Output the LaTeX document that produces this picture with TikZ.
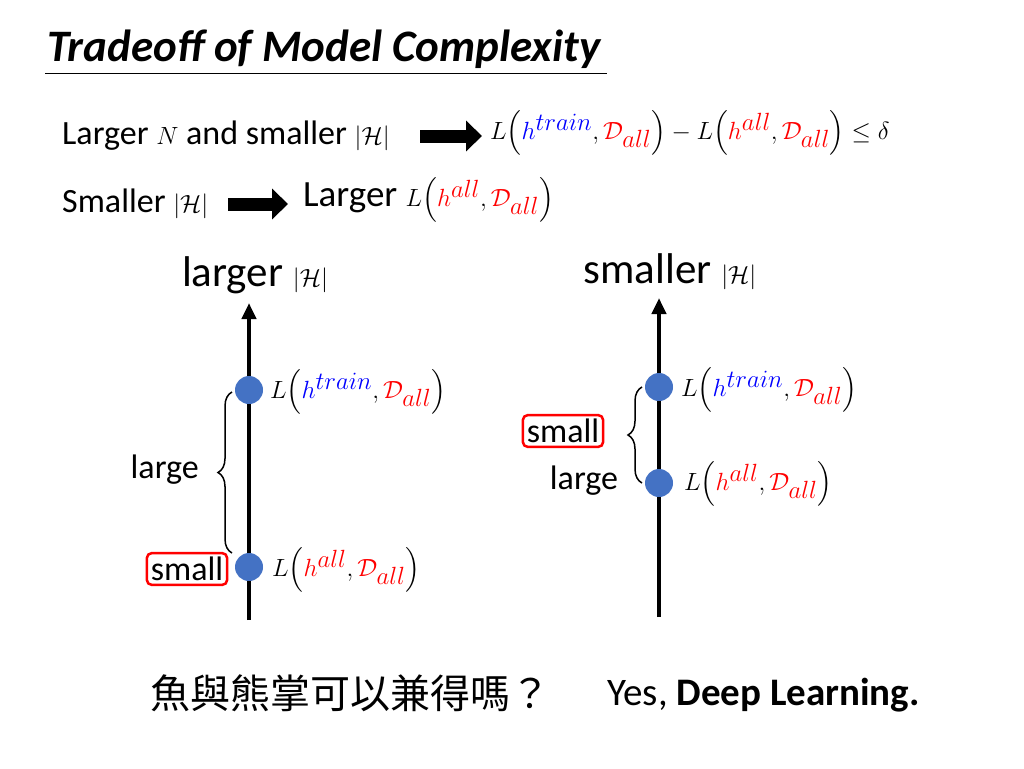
\documentclass[tikz,border=0pt]{standalone}
\usepackage{amsmath}
\usepackage{fontspec}
\setmainfont{Carlito}
\newfontfamily\cjk{Noto Sans CJK TC}
\usetikzlibrary{arrows.meta,decorations.pathreplacing}
\definecolor{dotblue}{HTML}{4472C4}
\newcommand{\Hc}{\lvert\mathcal{H}\rvert}
\newcommand{\Ltr}{L\Bigl(\textcolor{blue}{h^{train}},\textcolor{red}{\mathcal{D}_{all}}\Bigr)}
\newcommand{\Lal}{L\Bigl(\textcolor{red}{h^{all}},\textcolor{red}{\mathcal{D}_{all}}\Bigr)}
\begin{document}
\begin{tikzpicture}[x=1pt,y=-1pt,
  txt/.style={inner sep=0pt,font=\fontsize{34}{38}\selectfont},
  mth/.style={inner sep=0pt,font=\fontsize{37}{40}\selectfont},
  big/.style={inner sep=0pt,font=\fontsize{43}{46}\selectfont},
  dot/.style={circle,fill=dotblue,minimum size=28pt,inner sep=0pt},
  axis/.style={line width=4pt,-{Triangle[length=16pt,width=14pt]}},
  blk/.style={line width=13pt,-{Triangle[length=16pt,width=30pt]}},
  redbox/.style={draw=red,line width=2.5pt,rounded corners=5pt,inner sep=4pt},
  brace/.style={decorate,decoration={brace,amplitude=14pt},line width=1.5pt}]
\useasboundingbox (0,0) rectangle (1024,768);
\node[anchor=base west,inner sep=0pt,font=\fontsize{45}{48}\selectfont\bfseries\itshape] (title) at (47,62) {Tradeoff of Model Complexity};
\draw[line width=1pt] (45,73) -- (607,73);
% row 1
\node[txt,anchor=west] (r1) at (62,136) {Larger $N$ and smaller $\Hc$};
\coordinate (a1s) at (420,136); \coordinate (a1e) at (482,136);
\draw[blk] (a1s) -- (a1e);
\node[mth,anchor=west] (f1) at (490,133) {$\Ltr - \Lal \le \delta$};
% row 2
\node[txt,anchor=west] (r2) at (62,204) {Smaller $\Hc$};
\coordinate (a2s) at (228,204); \coordinate (a2e) at (288,204);
\draw[blk] (a2s) -- (a2e);
\node[mth,anchor=west] (f2) at (303,200) {Larger $\Lal$};
% left
\node[big] (lt) at (255,275) {larger $\Hc$};
\coordinate (lb) at (249,620); \coordinate (ltop) at (249,303);
\draw[axis] (lb) -- (ltop);
\node[dot] (ld1) at (249,390) {};
\node[dot] (ld2) at (249,567) {};
\draw[brace] (232,553) -- (232,392);
\node[txt,anchor=east] (llarge) at (199,470) {large};
\node[txt,redbox] (lsmall) at (187,569) {small};
\node[mth,anchor=west] (ll1) at (270,392) {$\Ltr$};
\node[mth,anchor=west] (ll2) at (272,570) {$\Lal$};
% right
\node[big] (rt) at (670,272) {smaller $\Hc$};
\coordinate (rb) at (659,617); \coordinate (rtop) at (659,298);
\draw[axis] (rb) -- (rtop);
\node[dot] (rd1) at (659,387) {};
\node[dot] (rd2) at (659,483) {};
\draw[brace] (642,483) -- (642,387);
\node[txt,redbox] (rsmall) at (563,431) {small};
\node[txt] (rlarge) at (584,481) {large};
\node[mth,anchor=west] (rl1) at (681,390) {$\Ltr$};
\node[mth,anchor=west] (rl2) at (684,484) {$\Lal$};
% bottom
\node[inner sep=0pt,font=\fontsize{40}{44}\cjk] (cn) at (350,693) {魚與熊掌可以兼得嗎？};
\node[inner sep=0pt,font=\fontsize{39}{42}\selectfont,anchor=west] (yes) at (607,695) {Yes, \textbf{Deep Learning.}};
\end{tikzpicture}
\end{document}
